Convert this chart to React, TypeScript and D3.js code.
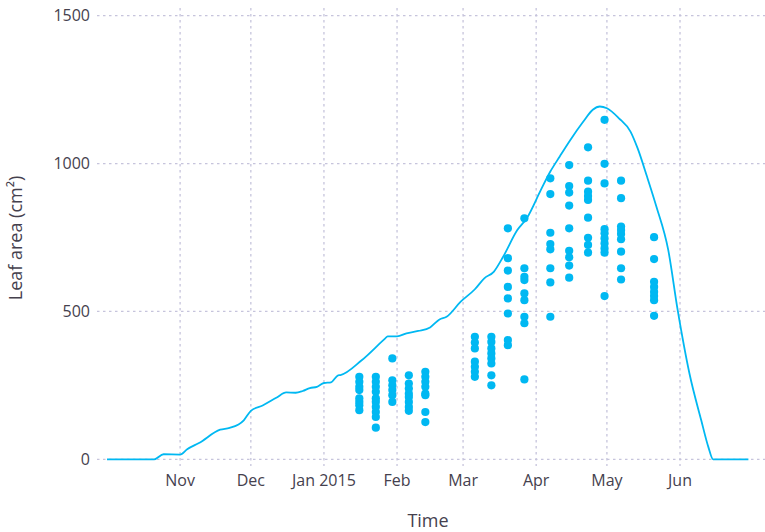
import React, { useEffect, useRef } from 'react';
import * as d3 from 'd3';

// simulated leaf area (line)
const lineDates = [
  '2014-10-01', '2014-10-21', '2014-10-25', '2014-11-01', '2014-11-04', '2014-11-09',
  '2014-11-18', '2014-11-22', '2014-11-28', '2014-12-01', '2014-12-06', '2014-12-12',
  '2014-12-16', '2014-12-20', '2014-12-23', '2014-12-26', '2014-12-29', '2015-01-01',
  '2015-01-04', '2015-01-07', '2015-01-08', '2015-01-17', '2015-01-27', '2015-01-28',
  '2015-02-01', '2015-02-05', '2015-02-10', '2015-02-15', '2015-02-19', '2015-02-22',
  '2015-02-28', '2015-03-06', '2015-03-10', '2015-03-14', '2015-03-18', '2015-03-24',
  '2015-03-28', '2015-04-03', '2015-04-07', '2015-04-11', '2015-04-15', '2015-04-21',
  '2015-04-25', '2015-04-28', '2015-05-01', '2015-05-06', '2015-05-11', '2015-05-14',
  '2015-05-18', '2015-05-22', '2015-05-27', '2015-05-31', '2015-06-05', '2015-06-10',
  '2015-06-13', '2015-06-15', '2015-06-30',
];
const lineValues = [
  0, 0, 17, 16, 34, 55,
  100, 106, 132, 164, 182, 209,
  226, 225, 231, 241, 245, 258,
  260, 284, 285, 335, 409, 416,
  416, 426, 434, 446, 473, 482,
  533, 575, 612, 634, 685, 775,
  815, 911, 973, 1024, 1074, 1142,
  1182, 1193, 1187, 1154, 1108, 1052,
  956, 854, 708, 505, 290, 132,
  42, 0, 0,
];

// measured leaf area (points), one list per sampling date
const sampleDates = [
  '2015-01-16', '2015-01-23', '2015-01-30', '2015-02-06', '2015-02-13',
  '2015-03-06', '2015-03-13', '2015-03-20', '2015-03-27',
  '2015-04-07', '2015-04-15', '2015-04-23', '2015-04-30', '2015-05-07', '2015-05-21',
];
const sampleValues = [
  [279, 262, 245, 234, 206, 194, 183, 166],
  [279, 262, 245, 228, 206, 194, 177, 160, 143, 107],
  [341, 267, 250, 234, 217, 194],
  [284, 256, 239, 222, 211, 194, 177, 164],
  [296, 279, 262, 245, 222, 217, 160, 126],
  [414, 395, 375, 330, 313, 296, 279],
  [414, 397, 375, 358, 341, 324, 284, 250],
  [781, 680, 638, 583, 544, 493, 403, 386],
  [815, 646, 617, 606, 561, 538, 482, 460, 270],
  [950, 897, 766, 728, 710, 646, 598, 482],
  [995, 924, 902, 858, 781, 705, 683, 655, 614],
  [1055, 942, 905, 890, 877, 817, 749, 725, 699],
  [1148, 999, 933, 778, 764, 747, 730, 713, 699, 552],
  [942, 883, 787, 775, 762, 744, 702, 646, 608],
  [751, 677, 600, 583, 566, 552, 538, 485],
];

const xDomain = ['2014-10-01', '2015-06-30'];
const monthTicks = ['2014-11-01', '2014-12-01', '2015-01-01', '2015-02-01', '2015-03-01', '2015-04-01', '2015-05-01', '2015-06-01'];
const monthLabels = ['Nov', 'Dec', 'Jan 2015', 'Feb', 'Mar', 'Apr', 'May', 'Jun'];
const yTicks = [0, 500, 1000, 1500];

const BLUE = '#00b8f2';
const GRID = '#c6c4dc';
const TEXT = '#45414e';
const FONT = '"Open Sans", sans-serif';

export default function App() {
  const svgRef = useRef<SVGSVGElement>(null);
  const width = 765;
  const height = 532;

  useEffect(() => {
    document.body.style.margin = '0';
    if (!svgRef.current) return;
    const svg = d3.select(svgRef.current);
    svg.selectAll('*').remove();

    const parse = d3.timeParse('%Y-%m-%d');

    const x = d3.scaleTime()
      .domain(xDomain.map(d => parse(d) as Date))
      .range([107, 748.4]);
    const y = d3.scaleLinear()
      .domain([0, 1500])
      .range([459.3, 15.7]);

    const gridLeft = 97;
    const gridRight = width;
    const gridTop = 8;
    const gridBottom = 466;

    // Grid lines
    const grid = svg.append('g')
      .attr('stroke', GRID)
      .attr('stroke-width', 1.3)
      .attr('stroke-dasharray', '2.5,3.5');

    grid.selectAll('line.h')
      .data(yTicks)
      .enter()
      .append('line')
      .attr('x1', gridLeft)
      .attr('x2', gridRight)
      .attr('y1', d => y(d))
      .attr('y2', d => y(d));

    grid.selectAll('line.v')
      .data(monthTicks)
      .enter()
      .append('line')
      .attr('x1', d => x(parse(d) as Date))
      .attr('x2', d => x(parse(d) as Date))
      .attr('y1', gridTop)
      .attr('y2', gridBottom);

    // Tick labels
    svg.append('g')
      .selectAll('text')
      .data(yTicks)
      .enter()
      .append('text')
      .attr('x', 90)
      .attr('y', d => y(d))
      .attr('dy', '0.36em')
      .attr('text-anchor', 'end')
      .attr('fill', TEXT)
      .attr('font-family', FONT)
      .attr('font-size', '16px')
      .text(d => `${d}`);

    svg.append('g')
      .selectAll('text')
      .data(monthTicks)
      .enter()
      .append('text')
      .attr('x', d => x(parse(d) as Date))
      .attr('y', 486)
      .attr('text-anchor', 'middle')
      .attr('fill', TEXT)
      .attr('font-family', FONT)
      .attr('font-size', '16px')
      .text((d, i) => monthLabels[i]);

    // Axis titles
    svg.append('text')
      .attr('x', 428)
      .attr('y', 527)
      .attr('text-anchor', 'middle')
      .attr('fill', TEXT)
      .attr('font-family', FONT)
      .attr('font-size', '18px')
      .text('Time');

    svg.append('text')
      .attr('transform', 'translate(22,238) rotate(-90)')
      .attr('text-anchor', 'middle')
      .attr('fill', TEXT)
      .attr('font-family', FONT)
      .attr('font-size', '18px')
      .text('Leaf area (cm²)');

    // Simulated line
    const lineData = lineDates.map((d, i) => ({ date: parse(d) as Date, value: lineValues[i] }));
    const line = d3.line<{ date: Date; value: number }>()
      .x(d => x(d.date))
      .y(d => y(d.value))
      .curve(d3.curveMonotoneX);

    svg.append('path')
      .datum(lineData)
      .attr('fill', 'none')
      .attr('stroke', BLUE)
      .attr('stroke-width', 1.8)
      .attr('stroke-linejoin', 'round')
      .attr('d', line);

    // Observed points
    const points = sampleDates.flatMap((d, i) =>
      sampleValues[i].map(v => ({ date: parse(d) as Date, value: v }))
    );

    svg.append('g')
      .selectAll('circle')
      .data(points)
      .enter()
      .append('circle')
      .attr('cx', d => x(d.date))
      .attr('cy', d => y(d.value))
      .attr('r', 4.1)
      .attr('fill', BLUE);
  }, []);

  return <svg ref={svgRef} width={width} height={height} style={{ display: 'block' }} />;
}
